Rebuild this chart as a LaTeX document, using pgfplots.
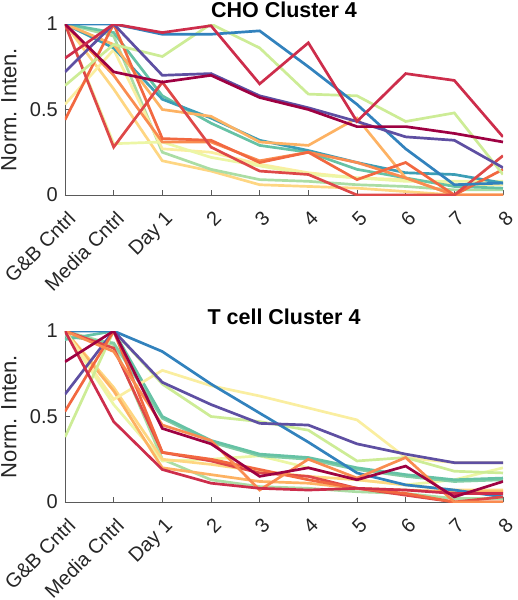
\documentclass[border=0pt]{standalone}
\usepackage{fontspec}
\setmainfont{Liberation Sans}
\usepackage{pgfplots}
\pgfplotsset{compat=1.18}
\definecolor{sp1}{RGB}{158,1,66}
\definecolor{sp2}{RGB}{205,45,75}
\definecolor{sp3}{RGB}{222,72,72}
\definecolor{sp4}{RGB}{242,104,64}
\definecolor{sp5}{RGB}{249,140,80}
\definecolor{sp6}{RGB}{253,178,99}
\definecolor{sp7}{RGB}{254,214,130}
\definecolor{sp8}{RGB}{250,238,160}
\definecolor{sp9}{RGB}{236,246,165}
\definecolor{sp10}{RGB}{205,236,150}
\definecolor{sp11}{RGB}{171,221,164}
\definecolor{sp12}{RGB}{130,205,165}
\definecolor{sp13}{RGB}{102,194,165}
\definecolor{sp14}{RGB}{60,158,182}
\definecolor{sp15}{RGB}{50,130,189}
\definecolor{sp16}{RGB}{94,79,162}
\definecolor{axc}{RGB}{38,38,38}
\definecolor{axl}{RGB}{90,90,90}
\pgfplotsset{
  myax/.style={
    scale only axis, width=438pt, height=171pt,
    xmin=0, xmax=9, ymin=0, ymax=1,
    axis lines*=left,
    axis line style={axl, line width=0.9pt},
    tick style={axl, line width=0.9pt},
    tick align=inside, major tick length=5pt,
    xtick={0,1,2,3,4,5,6,7,8,9},
    xticklabels={G\&B Cntrl, Media Cntrl, Day 1, 2, 3, 4, 5, 6, 7, 8},
    ytick={0,0.5,1}, yticklabels={0,0.5,1},
    /pgf/number format/assume math mode=true,
    ticklabel style={font=\fontsize{20}{23}\selectfont, text=axc},
    xticklabel style={xshift=1.5pt, yshift=-13pt, rotate=45, anchor=north east, inner sep=1pt},
    yticklabel style={inner sep=1pt, xshift=-6pt},
    ylabel={Norm. Inten.},
    ylabel style={at={(axis description cs:-0.128,0.5)}, anchor=center, rotate=0, font=\fontsize{22}{25}\selectfont, text=axc},
    title style={at={(axis description cs:0.5,1)}, anchor=base, yshift=1pt, font=\fontsize{21.5}{24}\selectfont\bfseries},
    every axis plot/.append style={line width=2.7pt, no markers},
  }
}
\begin{document}
\begin{tikzpicture}
\path[use as bounding box] (-65pt,-405pt) rectangle (452pt,195pt);
\begin{axis}[myax, title={CHO Cluster 4}, at={(0,0)}, anchor=south west]
% light orange
\addplot[sp7] coordinates {(0,1.0)(1,0.62)(2,0.20)(3,0.14)(4,0.06)(5,0.05)(6,0.04)(7,0.02)(8,0.0)(9,0.0)};
% green
\addplot[sp11] coordinates {(0,1.0)(1,0.93)(2,0.25)(3,0.15)(4,0.09)(5,0.08)(6,0.06)(7,0.05)(8,0.03)(9,0.03)};
% pale yellow
\addplot[sp8] coordinates {(0,0.53)(1,0.85)(2,0.27)(3,0.25)(4,0.18)(5,0.13)(6,0.10)(7,0.09)(8,0.06)(9,0.06)};
% light yellow
\addplot[sp9] coordinates {(0,1.0)(1,0.30)(2,0.31)(3,0.22)(4,0.17)(5,0.12)(6,0.10)(7,0.08)(8,0.08)(9,0.08)};
% teal
\addplot[sp13] coordinates {(0,1.0)(1,0.95)(2,0.58)(3,0.42)(4,0.29)(5,0.25)(6,0.15)(7,0.10)(8,0.05)(9,0.04)};
% blue teal
\addplot[sp14] coordinates {(0,1.0)(1,0.86)(2,0.56)(3,0.45)(4,0.32)(5,0.26)(6,0.19)(7,0.13)(8,0.12)(9,0.07)};
% orange
\addplot[sp6] coordinates {(0,1.0)(1,0.88)(2,0.50)(3,0.46)(4,0.31)(5,0.29)(6,0.45)(7,0.10)(8,0.0)(9,0.0)};
% orange 2
\addplot[sp5] coordinates {(0,1.0)(1,0.70)(2,0.31)(3,0.31)(4,0.20)(5,0.25)(6,0.19)(7,0.10)(8,0.0)(9,0.0)};
% orange-red
\addplot[sp4] coordinates {(0,0.44)(1,1.0)(2,0.33)(3,0.32)(4,0.19)(5,0.25)(6,0.09)(7,0.19)(8,0.0)(9,0.15)};
% red
\addplot[sp3] coordinates {(0,1.0)(1,0.28)(2,0.66)(3,0.28)(4,0.14)(5,0.12)(6,0.0)(7,0.0)(8,0.0)(9,0.23)};
% light green
\addplot[sp10] coordinates {(0,0.64)(1,0.88)(2,0.81)(3,1.0)(4,0.86)(5,0.59)(6,0.58)(7,0.43)(8,0.48)(9,0.12)};
% blue
\addplot[sp15] coordinates {(0,1.0)(1,1.0)(2,0.94)(3,0.94)(4,0.96)(5,0.75)(6,0.53)(7,0.27)(8,0.06)(9,0.07)};
% purple
\addplot[sp16] coordinates {(0,0.72)(1,1.0)(2,0.70)(3,0.71)(4,0.58)(5,0.51)(6,0.43)(7,0.34)(8,0.32)(9,0.16)};
% dark red
\addplot[sp1] coordinates {(0,1.0)(1,0.72)(2,0.66)(3,0.70)(4,0.57)(5,0.50)(6,0.40)(7,0.40)(8,0.36)(9,0.31)};
% crimson
\addplot[sp2] coordinates {(0,0.80)(1,1.0)(2,0.95)(3,0.99)(4,0.65)(5,0.89)(6,0.43)(7,0.71)(8,0.67)(9,0.34)};
\end{axis}
\begin{axis}[myax, title={T cell Cluster 4}, at={(0,-307pt)}, anchor=south west]
% light green
\addplot[sp11] coordinates {(0,1.0)(1,0.92)(2,0.25)(3,0.13)(4,0.09)(5,0.08)(6,0.06)(7,0.05)(8,0.02)(9,0.02)};
% light yellow
\addplot[sp9] coordinates {(0,1.0)(1,0.57)(2,0.24)(3,0.25)(4,0.27)(5,0.20)(6,0.13)(7,0.10)(8,0.13)(9,0.20)};
% light orange
\addplot[sp7] coordinates {(0,1.0)(1,0.67)(2,0.25)(3,0.22)(4,0.18)(5,0.15)(6,0.13)(7,0.10)(8,0.07)(9,0.07)};
% orange
\addplot[sp6] coordinates {(0,1.0)(1,0.65)(2,0.20)(3,0.16)(4,0.12)(5,0.11)(6,0.08)(7,0.07)(8,0.06)(9,0.06)};
% green-teal
\addplot[sp12] coordinates {(0,0.97)(1,0.93)(2,0.49)(3,0.35)(4,0.27)(5,0.25)(6,0.19)(7,0.15)(8,0.12)(9,0.13)};
% teal
\addplot[sp13] coordinates {(0,0.95)(1,1.0)(2,0.50)(3,0.36)(4,0.28)(5,0.26)(6,0.20)(7,0.16)(8,0.13)(9,0.14)};
% pale yellow
\addplot[sp8] coordinates {(0,1.0)(1,0.60)(2,0.77)(3,0.68)(4,0.62)(5,0.55)(6,0.48)(7,0.26)(8,0.23)(9,0.23)};
% yellow green
\addplot[sp10] coordinates {(0,0.38)(1,1.0)(2,0.69)(3,0.50)(4,0.47)(5,0.42)(6,0.24)(7,0.26)(8,0.18)(9,0.17)};
% blue
\addplot[sp15] coordinates {(0,1.0)(1,1.0)(2,0.88)(3,0.69)(4,0.52)(5,0.35)(6,0.17)(7,0.10)(8,0.07)(9,0.03)};
% purple
\addplot[sp16] coordinates {(0,0.63)(1,1.0)(2,0.70)(3,0.57)(4,0.46)(5,0.45)(6,0.34)(7,0.28)(8,0.23)(9,0.23)};
% red
\addplot[sp3] coordinates {(0,1.0)(1,0.90)(2,0.29)(3,0.24)(4,0.17)(5,0.15)(6,0.08)(7,0.04)(8,0.0)(9,0.03)};
% orange-red
\addplot[sp4] coordinates {(0,0.53)(1,1.0)(2,0.29)(3,0.25)(4,0.19)(5,0.13)(6,0.08)(7,0.05)(8,0.0)(9,0.0)};
% orange 2
\addplot[sp5] coordinates {(0,1.0)(1,0.88)(2,0.45)(3,0.36)(4,0.07)(5,0.25)(6,0.14)(7,0.26)(8,0.0)(9,0.0)};
% crimson
\addplot[sp2] coordinates {(0,1.0)(1,0.47)(2,0.19)(3,0.11)(4,0.08)(5,0.07)(6,0.08)(7,0.07)(8,0.05)(9,0.05)};
% dark red
\addplot[sp1] coordinates {(0,0.82)(1,1.0)(2,0.43)(3,0.34)(4,0.15)(5,0.20)(6,0.13)(7,0.21)(8,0.03)(9,0.12)};
\end{axis}
\end{tikzpicture}
\end{document}
